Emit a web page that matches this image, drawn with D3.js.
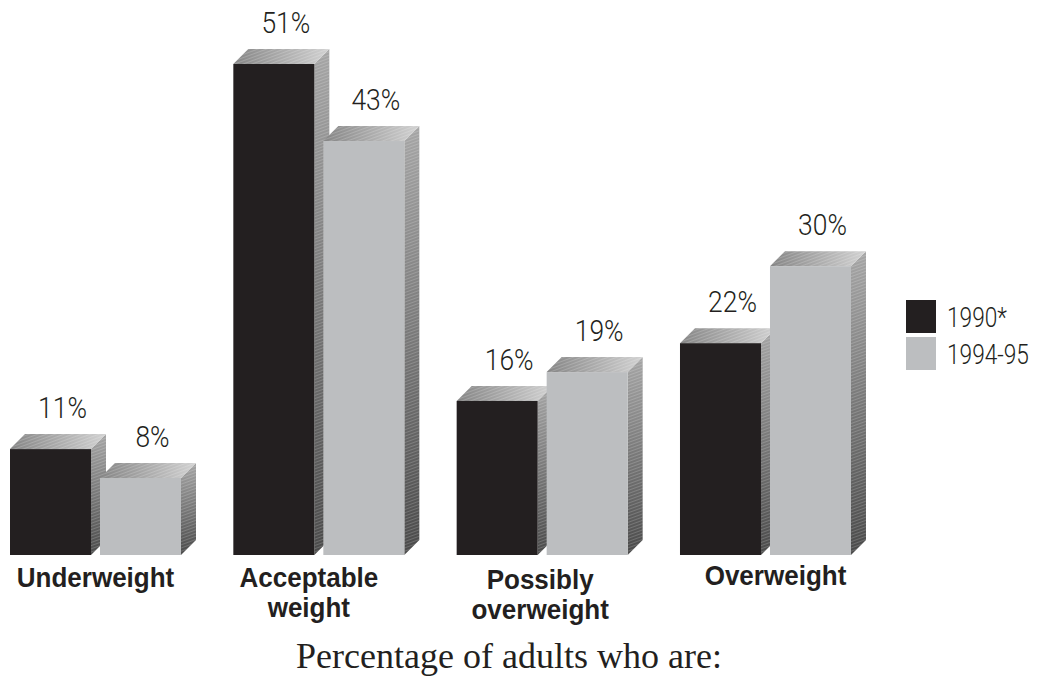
<!DOCTYPE html>
<html>
<head>
<meta charset="utf-8">
<script src="https://cdn.jsdelivr.net/npm/d3@7"></script>
<style>
  html, body { margin: 0; padding: 0; background: #fff; }
  svg { display: block; }
</style>
</head>
<body>
<svg id="chart" width="1039" height="679"></svg>
<script>
// Share of adults in each weight category, by survey period
const categories = ["Underweight", "Acceptable weight", "Possibly overweight", "Overweight"];
const categoryLines = [["Underweight"], ["Acceptable", "weight"], ["Possibly", "overweight"], ["Overweight"]];
const series = ["1990*", "1994-95"];
const values1990 = [11, 51, 16, 22];
const values1994 = [8, 43, 19, 30];
const title = "Percentage of adults who are:";

const seriesColors = ["#231f20", "#bcbec0"];
const inkColor = "#231f20";

// label nudges (layout only)
const labelShiftX = [0, -10, -2, 10];
const labelShiftY = [0, 0, 2, -2];

const W = 1039, H = 679;
const baseY = 555;
const depthX = 15, depthY = 15;

const svg = d3.select("#chart");
const defs = svg.append("defs");

// top face: darker on the left, lighter towards the right
const gTop = defs.append("linearGradient").attr("id", "topGrad")
  .attr("x1", "0%").attr("x2", "100%").attr("y1", "0%").attr("y2", "0%");
gTop.append("stop").attr("offset", "0%").attr("stop-color", "#858585");
gTop.append("stop").attr("offset", "100%").attr("stop-color", "#d2d2d2");

// side face: light at the top fading to dark at the bottom
const gSide = defs.append("linearGradient").attr("id", "sideGrad")
  .attr("gradientUnits", "objectBoundingBox")
  .attr("x1", "0%").attr("x2", "0%").attr("y1", "0%").attr("y2", "100%");
gSide.append("stop").attr("offset", "0%").attr("stop-color", "#a6a6a6");
gSide.append("stop").attr("offset", "100%").attr("stop-color", "#4a4a4a");

// fine diagonal screen texture over the shaded faces
const hatch = defs.append("pattern").attr("id", "hatch")
  .attr("patternUnits", "userSpaceOnUse").attr("width", 3).attr("height", 3)
  .attr("patternTransform", "rotate(70)");
hatch.append("rect").attr("width", 1).attr("height", 3).attr("fill", "#ffffff").attr("opacity", 0.18);

const x0 = d3.scaleBand().domain(categories).range([10, 10 + 4 * 223.33]).padding(0);
const x1 = d3.scaleBand().domain(series).range([0, 171]).paddingInner(0.1).paddingOuter(0);
const y = d3.scaleLinear().domain([0, 51]).range([baseY, 64]);

const rows = categories.map((c, i) => ({
  cat: c, idx: i,
  bars: [
    { s: series[0], v: values1990[i], color: seriesColors[0] },
    { s: series[1], v: values1994[i], color: seriesColors[1] }
  ]
}));

const bw = x1.bandwidth();

const groups = svg.append("g").selectAll("g.group").data(rows).join("g")
  .attr("class", "group")
  .attr("transform", d => `translate(${x0(d.cat)},0)`);

const bars = groups.selectAll("g.bar").data(d => d.bars).join("g").attr("class", "bar");

function sidePts(d) {
  const xl = x1(d.s) + bw, top = y(d.v);
  return [[xl, top], [xl + depthX, top - depthY], [xl + depthX, baseY - depthY], [xl, baseY]];
}
function topPts(d) {
  const xl = x1(d.s), top = y(d.v);
  return [[xl, top], [xl + depthX, top - depthY], [xl + bw + depthX, top - depthY], [xl + bw, top]];
}
const pts = p => p.map(q => q.join(",")).join(" ");

bars.append("polygon").attr("points", d => pts(sidePts(d))).attr("fill", "url(#sideGrad)");
bars.append("polygon").attr("points", d => pts(sidePts(d))).attr("fill", "url(#hatch)");
bars.append("polygon").attr("points", d => pts(topPts(d))).attr("fill", "url(#topGrad)");
bars.append("polygon").attr("points", d => pts(topPts(d))).attr("fill", "url(#hatch)");
bars.append("rect")
  .attr("x", d => x1(d.s)).attr("y", d => y(d.v))
  .attr("width", bw).attr("height", d => baseY - y(d.v))
  .attr("fill", d => d.color);

// value labels in a light face, squeezed horizontally to read as a narrow type
const valueLabels = bars.append("text")
  .attr("transform", d => `translate(${x1(d.s) + bw / 2 + 12},${y(d.v) - depthY - 16}) scale(0.88,1)`)
  .attr("text-anchor", "middle")
  .attr("font-family", "Roboto, 'Liberation Sans', sans-serif")
  .attr("font-weight", 300)
  .attr("font-size", 30)
  .attr("fill", inkColor)
  .text(d => d.v + "%");

// category labels under each pair of bars
const catLabels = groups.append("text")
  .attr("text-anchor", "middle")
  .attr("font-family", "'Liberation Sans', Arial, sans-serif")
  .attr("font-weight", 700)
  .attr("font-size", 28)
  .attr("fill", inkColor)
  .attr("transform", d => `translate(${171 / 2 + labelShiftX[d.idx]},${587 + labelShiftY[d.idx]}) scale(0.93,1)`);
catLabels.selectAll("tspan").data(d => categoryLines[d.idx]).join("tspan")
  .attr("x", 0).attr("dy", (d, i) => i === 0 ? 0 : 30)
  .text(d => d);

// axis title
svg.append("text")
  .attr("x", 509).attr("y", 668)
  .attr("text-anchor", "middle")
  .attr("font-family", "'Liberation Serif', 'Times New Roman', serif")
  .attr("font-size", 36)
  .attr("fill", inkColor)
  .text(title);

// legend
const legend = svg.append("g").attr("transform", "translate(906,300)");
const li = legend.selectAll("g").data(series).join("g")
  .attr("transform", (d, i) => `translate(0,${i * 37})`);
li.append("rect").attr("width", 30).attr("height", 33).attr("fill", (d, i) => seriesColors[i]);
li.append("text")
  .attr("transform", "translate(41,27) scale(0.84,1)")
  .attr("font-family", "Roboto, 'Liberation Sans', sans-serif")
  .attr("font-weight", 300)
  .attr("font-size", 27)
  .attr("fill", inkColor)
  .text(d => d);
</script>
</body>
</html>
